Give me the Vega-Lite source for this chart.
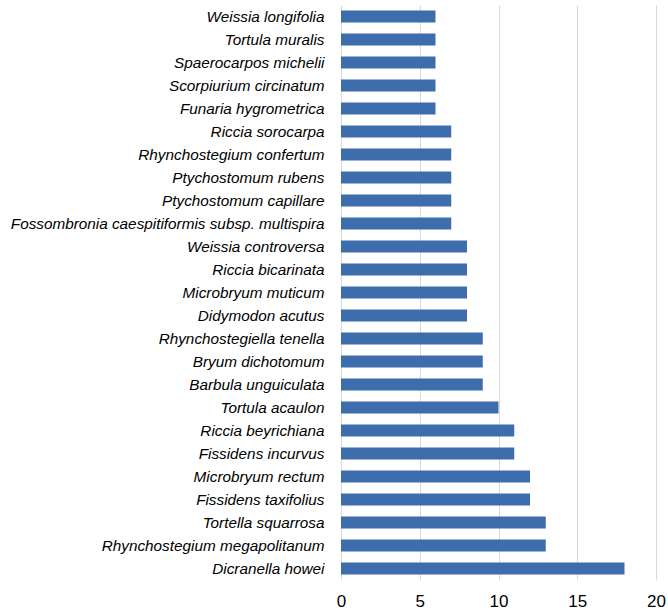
{
  "$schema": "https://vega.github.io/schema/vega-lite/v6.json",
  "autosize": {"type": "none"},
  "padding": {"left": 341, "top": 5, "right": 12, "bottom": 30},
  "width": 315,
  "height": 575,
  "background": "white",
  "config": {"view": {"stroke": null}},
  "data": {
    "values": [
      {"species": "Weissia longifolia", "count": 6},
      {"species": "Tortula muralis", "count": 6},
      {"species": "Spaerocarpos michelii", "count": 6},
      {"species": "Scorpiurium circinatum", "count": 6},
      {"species": "Funaria hygrometrica", "count": 6},
      {"species": "Riccia sorocarpa", "count": 7},
      {"species": "Rhynchostegium confertum", "count": 7},
      {"species": "Ptychostomum rubens", "count": 7},
      {"species": "Ptychostomum capillare", "count": 7},
      {"species": "Fossombronia caespitiformis subsp. multispira", "count": 7},
      {"species": "Weissia controversa", "count": 8},
      {"species": "Riccia bicarinata", "count": 8},
      {"species": "Microbryum muticum", "count": 8},
      {"species": "Didymodon acutus", "count": 8},
      {"species": "Rhynchostegiella tenella", "count": 9},
      {"species": "Bryum dichotomum", "count": 9},
      {"species": "Barbula unguiculata", "count": 9},
      {"species": "Tortula acaulon", "count": 10},
      {"species": "Riccia beyrichiana", "count": 11},
      {"species": "Fissidens incurvus", "count": 11},
      {"species": "Microbryum rectum", "count": 12},
      {"species": "Fissidens taxifolius", "count": 12},
      {"species": "Tortella squarrosa", "count": 13},
      {"species": "Rhynchostegium megapolitanum", "count": 13},
      {"species": "Dicranella howei", "count": 18}
    ]
  },
  "mark": {"type": "bar", "color": "#3E6DAD"},
  "encoding": {
    "y": {
      "field": "species",
      "type": "nominal",
      "sort": null,
      "scale": {"paddingInner": 0.48, "paddingOuter": 0.24},
      "axis": {
        "title": null,
        "domain": false,
        "ticks": false,
        "labelFont": "Liberation Sans",
        "labelFontStyle": "italic",
        "labelFontSize": 15.3,
        "labelColor": "#000000",
        "labelPadding": 17,
        "labelLimit": 400
      }
    },
    "x": {
      "field": "count",
      "type": "quantitative",
      "scale": {"domain": [0, 20], "nice": false},
      "axis": {
        "title": null,
        "values": [0, 5, 10, 15, 20],
        "domain": false,
        "ticks": false,
        "grid": true,
        "gridColor": "#D9D9D9",
        "gridWidth": 1,
        "labelFont": "Liberation Sans",
        "labelFontSize": 17,
        "labelColor": "#000000",
        "labelPadding": 13,
        "labelFlush": false
      }
    }
  }
}
